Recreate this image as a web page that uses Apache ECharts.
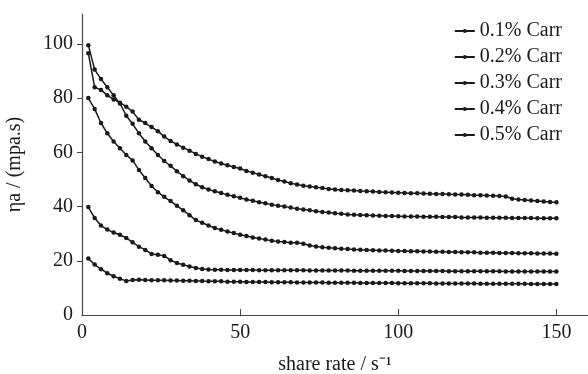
<!DOCTYPE html>
<html>
<head>
<meta charset="utf-8">
<script src="https://cdn.jsdelivr.net/npm/echarts@6/dist/echarts.min.js"></script>
<style>
html, body { margin: 0; padding: 0; background: #fff; }
#main { width: 588px; height: 374px; }
</style>
</head>
<body>
<div id="main"></div>
<script>
// share rate (s^-1)
var shareRate = [2, 4, 6, 8, 10, 12, 14, 16, 18, 20,
    22, 24, 26, 28, 30, 32, 34, 36, 38, 40,
    42, 44, 46, 48, 50, 52, 54, 56, 58, 60,
    62, 64, 66, 68, 70, 72, 74, 76, 78, 80,
    82, 84, 86, 88, 90, 92, 94, 96, 98, 100,
    102, 104, 106, 108, 110, 112, 114, 116, 118, 120,
    122, 124, 126, 128, 130, 132, 134, 136, 138, 140,
    142, 144, 146, 148, 150];

var carr01 = [20.8, 18.6, 16.9, 15.4, 14.3, 13.4, 12.5, 12.9, 13, 12.9,
    12.8, 12.8, 12.8, 12.7, 12.7, 12.6, 12.6, 12.5, 12.5, 12.4,
    12.4, 12.4, 12.3, 12.3, 12.3, 12.2, 12.2, 12.2, 12.2, 12.1,
    12.1, 12.1, 12.1, 12.0, 12.0, 12.0, 12.0, 12.0, 11.9, 11.9,
    11.9, 11.9, 11.9, 11.8, 11.8, 11.8, 11.8, 11.8, 11.8, 11.7,
    11.7, 11.7, 11.7, 11.7, 11.7, 11.6, 11.6, 11.6, 11.6, 11.6,
    11.6, 11.6, 11.5, 11.5, 11.5, 11.5, 11.5, 11.5, 11.5, 11.5,
    11.4, 11.4, 11.4, 11.4, 11.4];

var carr02 = [39.8, 35.8, 33, 31.5, 30.4, 29.6, 28.4, 26.8, 25.2, 24,
    22.5, 22.2, 21.8, 20.2, 19.2, 18.5, 17.9, 17.3, 17, 16.8,
    16.7, 16.7, 16.6, 16.6, 16.6, 16.6, 16.6, 16.5, 16.5, 16.5,
    16.5, 16.5, 16.5, 16.5, 16.5, 16.4, 16.4, 16.4, 16.4, 16.4,
    16.4, 16.4, 16.3, 16.3, 16.3, 16.3, 16.3, 16.3, 16.3, 16.3,
    16.2, 16.2, 16.2, 16.2, 16.2, 16.2, 16.2, 16.1, 16.1, 16.1,
    16.1, 16.1, 16.1, 16.1, 16.1, 16.1, 16.0, 16.0, 16.0, 16.0,
    16.0, 16.0, 16.0, 16.0, 16.0];

var carr03 = [80, 76, 70.8, 67, 64, 61.5, 59, 57, 53.5, 50.5,
    47.6, 45.3, 43.6, 42, 40.3, 38.6, 36.8, 35, 34, 33,
    32.1, 31.4, 30.8, 30.2, 29.6, 29.1, 28.6, 28.2, 27.8, 27.4,
    27.1, 26.9, 26.6, 26.6, 26.3, 25.6, 25.3, 25, 24.8, 24.6,
    24.4, 24.3, 24.2, 24.1, 24, 23.9, 23.8, 23.8, 23.7, 23.6,
    23.6, 23.5, 23.5, 23.4, 23.4, 23.3, 23.3, 23.2, 23.2, 23.1,
    23.1, 23.1, 23, 23, 23, 22.9, 22.9, 22.9, 22.8, 22.8,
    22.8, 22.7, 22.7, 22.7, 22.6];

var carr04 = [99.5, 90.5, 87, 84, 81, 78, 73.5, 70.5, 67, 64,
    61.5, 59, 56.8, 55, 53, 51.2, 49.6, 48.2, 47.1, 46.3,
    45.6, 45, 44.3, 43.8, 43.2, 42.6, 42.1, 41.6, 41.2, 40.7,
    40.3, 40, 39.6, 39.2, 38.9, 38.6, 38.3, 38, 37.8, 37.5,
    37.3, 37.1, 37, 36.9, 36.8, 36.7, 36.6, 36.5, 36.5, 36.4,
    36.3, 36.3, 36.3, 36.2, 36.2, 36.2, 36.1, 36.1, 36.1, 36,
    36, 36, 36, 35.9, 35.9, 35.9, 35.9, 35.8, 35.8, 35.8,
    35.8, 35.7, 35.7, 35.7, 35.7];

var carr05 = [96.5, 84, 83, 81, 79.5, 78.3, 76.8, 75, 72, 70.8,
    69.3, 67.8, 65.8, 64.2, 62.9, 61.7, 60.6, 59.4, 58.4, 57.5,
    56.6, 55.9, 55.2, 54.6, 54, 53.1, 52.5, 51.8, 51.2, 50.5,
    49.8, 49.2, 48.6, 48.1, 47.7, 47.4, 47.1, 46.8, 46.5, 46.3,
    46.1, 46, 45.9, 45.7, 45.6, 45.5, 45.4, 45.3, 45.2, 45.1,
    45, 44.9, 44.9, 44.8, 44.7, 44.6, 44.6, 44.5, 44.4, 44.4,
    44.3, 44.2, 44.2, 44.1, 44, 43.9, 43.7, 42.9, 42.6, 42.4,
    42.2, 42, 41.9, 41.7, 41.6];

var seriesNames = ['0.1% Carr', '0.2% Carr', '0.3% Carr', '0.4% Carr', '0.5% Carr'];
var seriesValues = [carr01, carr02, carr03, carr04, carr05];

var xTickLabels = [0, 50, 100, 150];
var yTickLabels = [0, 20, 40, 60, 80, 100];

function pairs(values) {
    var out = [];
    for (var i = 0; i < values.length; i++) {
        out.push([shareRate[i], values[i]]);
    }
    return out;
}

var serif = 'Liberation Serif';
var ink = '#1a1a1a';

var series = [];
for (var k = 0; k < seriesNames.length; k++) {
    series.push({
        name: seriesNames[k],
        type: 'line',
        data: pairs(seriesValues[k]),
        symbol: 'circle',
        symbolSize: 4.5,
        showSymbol: true,
        lineStyle: {color: ink, width: 1.5},
        itemStyle: {color: ink},
        emphasis: {disabled: true},
        animation: false
    });
}

var mychart = echarts.init(document.getElementById('main'));
var option = {
    backgroundColor: '#fff',
    animation: false,
    grid: {left: 82, right: 0, top: 14, bottom: 59, outerBoundsMode: 'none'},
    legend: {
        orient: 'vertical',
        right: 21,
        top: 16,
        itemWidth: 20,
        itemHeight: 5,
        itemGap: 6,
        data: seriesNames,
        textStyle: {fontFamily: serif, fontSize: 20, color: ink, lineHeight: 20}
    },
    xAxis: {
        type: 'value',
        min: 0,
        max: 160,
        name: 'share rate / s\u207B\u00B9',
        nameLocation: 'middle',
        nameGap: 40,
        nameTextStyle: {fontFamily: serif, fontSize: 20, color: ink},
        axisLine: {lineStyle: {color: '#444', width: 1.2}},
        axisTick: {inside: true, length: 6, customValues: [50, 100, 150], lineStyle: {color: '#444'}},
        axisLabel: {customValues: xTickLabels, fontFamily: serif, fontSize: 20, color: ink, margin: 8},
        splitLine: {show: false}
    },
    yAxis: {
        type: 'value',
        min: 0,
        max: 111,
        name: '\u03B7a / (mpa.s)',
        nameLocation: 'middle',
        nameGap: 57,
        nameTextStyle: {fontFamily: serif, fontSize: 20, color: ink},
        axisLine: {show: true, lineStyle: {color: '#444', width: 1.2}},
        axisTick: {show: true, length: 5, customValues: [20, 40, 60, 80, 100], lineStyle: {color: '#444'}},
        axisLabel: {customValues: yTickLabels, fontFamily: serif, fontSize: 20, color: ink, margin: 9},
        splitLine: {show: false}
    },
    series: series
};
mychart.setOption(option);
</script>
</body>
</html>
